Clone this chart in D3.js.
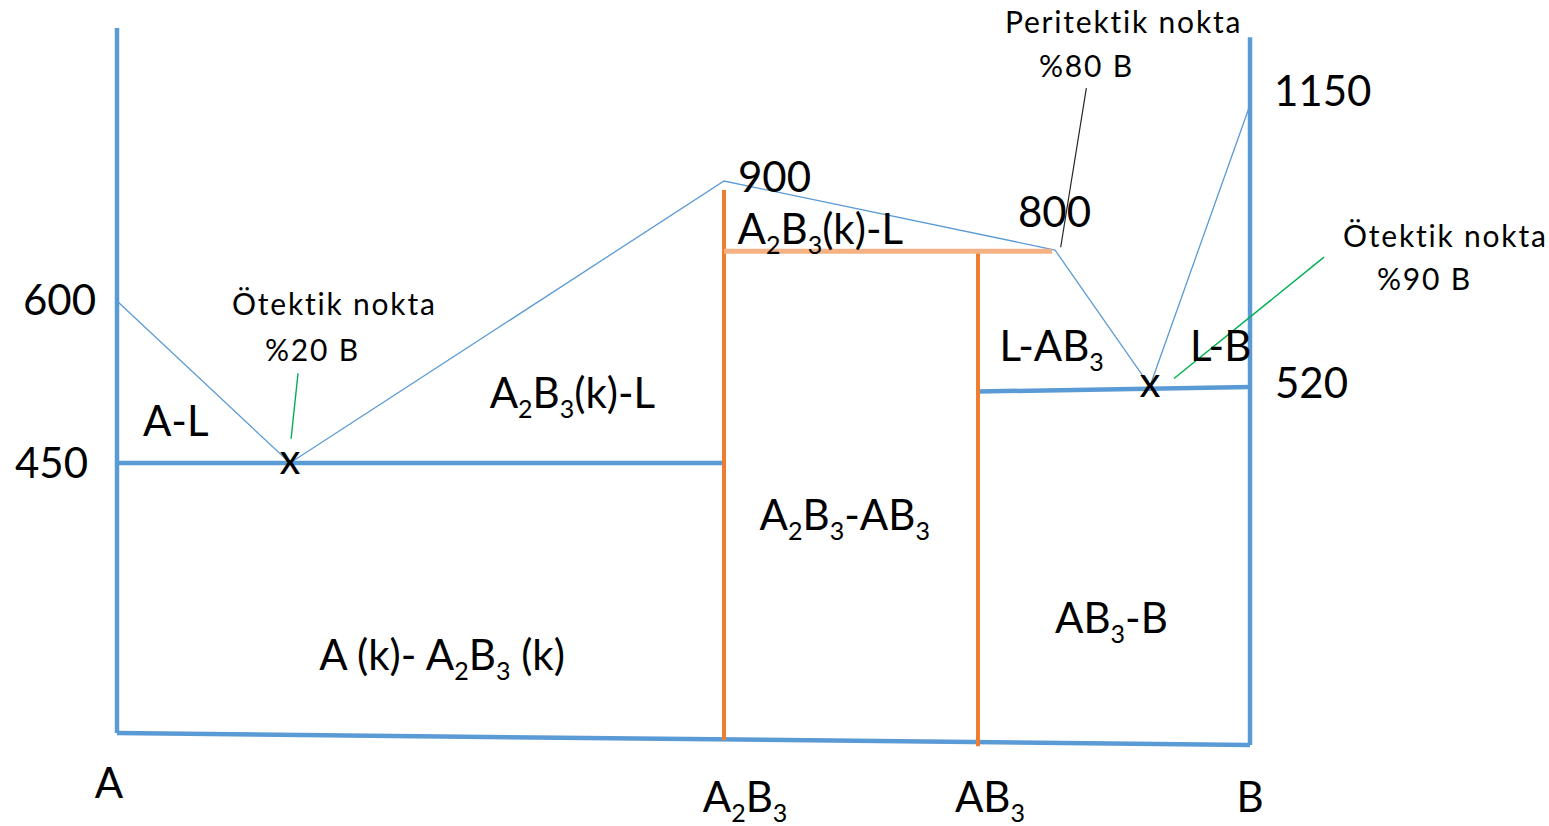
<!DOCTYPE html>
<html lang="tr">
<head>
<meta charset="UTF-8">
<title>Faz diyagramı A-B</title>
<script src="https://d3js.org/d3.v7.min.js"></script>
<style>
  body { margin: 0; background: #fff; }
  text { font-family: Lato, "Open Sans", sans-serif; fill: #000; }
  .note { letter-spacing: 1.8px; }
  .wall { fill: none; stroke: #5b9bd5; stroke-width: 4.5px; }
  .liquidus { fill: none; stroke: #5b9bd5; stroke-width: 1.3px; }
  .compound { fill: none; stroke: #ed7d31; stroke-width: 4px; }
  .peri { fill: none; stroke: #f4b183; stroke-width: 5px; }
  .lead-green { stroke: #00b050; stroke-width: 1.4px; }
  .lead-black { stroke: #262626; stroke-width: 1.2px; }
</style>
</head>
<body>
<svg width="1549" height="826"></svg>
<script>
// composition (%B) and temperature data
const compBreaks = [0, 20, 60, 75, 80, 90, 100];
const tempBreaks = [-20, 0, 450, 520, 600, 800, 900, 1150, 1400];

const phaseNames = ["A", "A_2B_3", "AB_3", "B"];
const phaseComp = [0, 60, 75, 100];

const tempValues = [600, 450, 900, 800, 1150, 520];
const tempComp = [0, 0, 60, 80, 100, 100];

const liquidus = [[0, 600], [20, 450], [60, 900], [80, 800], [90, 520], [100, 1150]];
const eutecticLow = [[0, 450], [60, 450]];
const eutecticHigh = [[75, 515], [100, 519]];
const peritectic = [[60, 795], [79.8, 795]];
const base = [[0, 0], [100, -20]];
const wallA = [[0, 0], [0, 1400]];
const wallB = [[100, -20], [100, 1370]];
const lineA2B3 = [[60, 887], [60, -12]];
const lineAB3 = [[75, 792], [75, -22]];

const eutecticPoints = [[20, 450], [90, 520]];

// region / note labels: text, %B, temperature (left, baseline)
const bigLabels = [
  ["A-L", 3.0, 475],
  ["A_2B_3(k)-L", 38.4, 500],
  ["A_2B_3(k)-L", 60.8, 809],
  ["A_2B_3-AB_3", 62.1, 338],
  ["A (k)- A_2B_3 (k)", 22.7, 105],
  ["L-AB_3", 76.4, 544],
  ["L-B", 94, 544],
  ["AB_3-B", 80, 167]
];
const noteLabels = [
  ["Ötektik nokta", 13.3, 587],
  ["%20 B", 17.1, 544],
  ["Peritektik nokta", 76.75, 1384],
  ["%80 B", 78.96, 1241],
  ["Ötektik nokta", 109.3, 804],
  ["%90 B", 112.7, 643]
];
const leaders = [
  { cls: "lead-green", pts: [[20.74, 532], [20.1, 472]] },
  { cls: "lead-black", pts: [[83.3, 1205], [80.6, 804]] },
  { cls: "lead-green", pts: [[107.4, 772], [92.4, 527]] }
];

const svg = d3.select("svg");

const x = d3.scaleLinear().domain(compBreaks).range([117, 290, 724, 978, 1055, 1150, 1250]);
const y = d3.scaleLinear().domain(tempBreaks).range([745, 733, 463, 386, 301, 250, 181, 105, 28]);

const line = d3.line().x(d => x(d[0])).y(d => y(d[1]));

const BIG = 42, SMALL = 30;

// text with "_n" subscripts
function richText(g, str, size) {
  const t = g.append("text").style("font-size", size + "px");
  const sub = Math.round(size * 0.6), shift = Math.round(size * 0.24);
  let down = false;
  str.split(/(_\d)/).filter(s => s.length).forEach(s => {
    if (s[0] === "_") {
      t.append("tspan").attr("dy", shift).style("font-size", sub + "px").text(s.slice(1));
      down = true;
    } else {
      t.append("tspan").attr("dy", down ? -shift : 0).text(s);
      down = false;
    }
  });
  return t;
}

// lines
svg.append("path").attr("class", "liquidus").attr("d", line(liquidus));

[wallA, wallB, base, eutecticLow, eutecticHigh].forEach(d =>
  svg.append("path").attr("class", "wall").attr("d", line(d)));

[lineA2B3, lineAB3].forEach(d =>
  svg.append("path").attr("class", "compound").attr("d", line(d)));

svg.append("path").attr("class", "peri").attr("d", line(peritectic));

svg.selectAll(".leader")
  .data(leaders)
  .enter().append("path")
  .attr("class", d => "leader " + d.cls)
  .attr("d", d => line(d.pts));

// eutectic markers
svg.selectAll(".mark")
  .data(eutecticPoints)
  .enter().append("text")
  .attr("class", "mark")
  .attr("x", d => x(d[0]))
  .attr("y", d => y(d[1]) + 11)
  .attr("text-anchor", "middle")
  .style("font-size", BIG + "px")
  .text("x");

// temperature labels
const tempOffsets = [[-94, 14], [-102, 15], [14, 11], [-37, -23], [24, 1], [25, 12]];
tempValues.forEach((v, i) => {
  svg.append("text")
    .attr("x", x(tempComp[i]) + tempOffsets[i][0])
    .attr("y", y(v) + tempOffsets[i][1])
    .style("font-size", BIG + "px")
    .text(v);
});

// composition labels under the base
const phaseOffsets = [[-8, 798], [21, 812], [12, 812], [0, 812]];
phaseNames.forEach((n, i) => {
  richText(svg, n, BIG)
    .attr("x", x(phaseComp[i]) + phaseOffsets[i][0])
    .attr("y", phaseOffsets[i][1])
    .attr("text-anchor", "middle");
});

bigLabels.forEach(d => {
  richText(svg, d[0], BIG).attr("x", x(d[1])).attr("y", y(d[2]));
});

noteLabels.forEach(d => {
  svg.append("text")
    .attr("class", "note")
    .attr("x", x(d[1]))
    .attr("y", y(d[2]))
    .style("font-size", SMALL + "px")
    .text(d[0]);
});
</script>
</body>
</html>
